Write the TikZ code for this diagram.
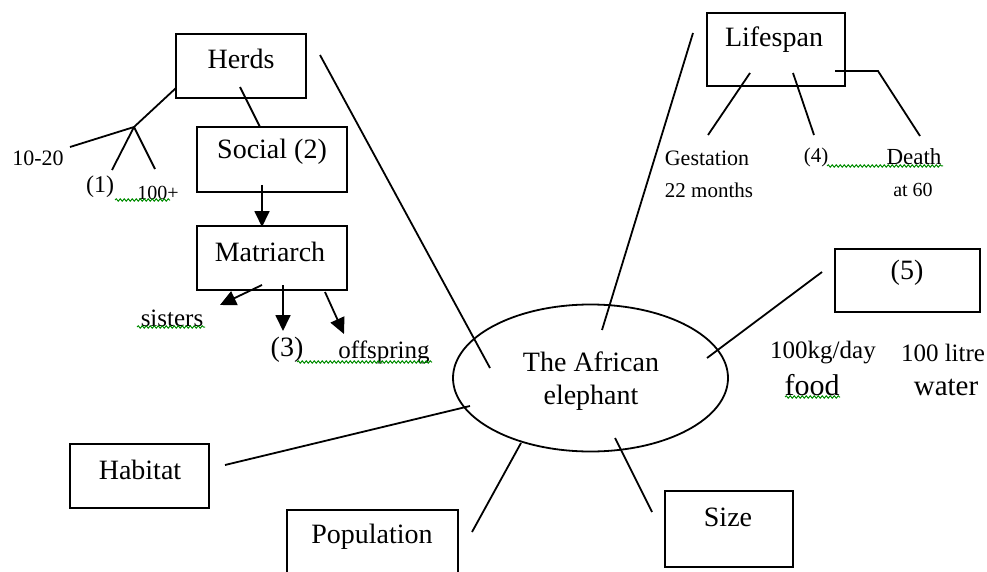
\documentclass[tikz,border=0pt]{standalone}
\usepackage{fontspec}
\setmainfont{Liberation Serif}
\usetikzlibrary{arrows.meta,shapes.geometric,decorations.pathmorphing}
\newcommand{\fs}[1]{\fontsize{#1}{#1}\selectfont}
\tikzset{
  box/.style={draw, line width=2pt, rectangle, inner sep=0pt},
  lab/.style={inner sep=0pt, anchor=center},
  big/.style={lab, font=\fs{28}},
  small/.style={lab, font=\fs{22}},
  conn/.style={line width=1.8pt},
  arr/.style={line width=1.8pt, -{Triangle[length=16pt,width=15pt]}},
  wavy/.style={draw=green!55!black, line width=1pt, decorate, decoration={snake, amplitude=1.2pt, segment length=4pt}}
}
\begin{document}
\begin{tikzpicture}[x=1pt,y=-1pt]
\useasboundingbox (0,0) rectangle (987,572);
\clip (0,0) rectangle (987,572);
\fill[white] (0,0) rectangle (987,572);
% boxes
\node[box, minimum width=130, minimum height=64] (herds) at (241,66) {};
\node[box, minimum width=150, minimum height=65] (social) at (272,159.5) {};
\node[box, minimum width=150, minimum height=64] (matri) at (272,258) {};
\node[box, minimum width=138, minimum height=73] (life) at (776,49.5) {};
\node[box, minimum width=145, minimum height=63] (five) at (907.5,280.5) {};
\node[box, minimum width=139, minimum height=64] (habitat) at (139.5,476) {};
\node[box, minimum width=171, minimum height=90] (pop) at (372.5,555) {};
\node[box, minimum width=128, minimum height=76] (size) at (729,529) {};
\node[draw, line width=1.8pt, ellipse, minimum width=275, minimum height=147, inner sep=0pt] (ell) at (590.5,378) {};
% box texts
\node[big] (tHerds) at (241,59) {Herds};
\node[big] (tSocial) at (272,152) {Social (2)};
\node[big] (tMatri) at (270,252) {Matriarch};
\node[big] (tLife) at (774,40) {Lifespan};
\node[big] (tFive) at (907,273) {(5)};
\node[big] (tHab) at (140,470) {Habitat};
\node[big] (tPop) at (372,537) {Population};
\node[big] (tSize) at (728,517) {Size};
\node[big, align=center, font=\fs{28}\linespread{1.18}\selectfont] (tEll) at (591,381) {The African\\elephant};
% small labels
\node[small] (l1020) at (38,158) {10-20};
\node[lab, font=\fs{24}] (l1) at (100,187) {(1)};
\node[lab, font=\fs{20}] (l100) at (158,193) {100+};
\node[lab, font=\fs{25}] (lsis) at (172,318) {sisters};
\node[big] (l3) at (287,350) {(3)};
\node[lab, font=\fs{25}] (loff) at (384,352) {offspring};
\node[small] (lgest) at (707,158) {Gestation};
\node[lab, font=\fs{21}] (l22) at (709,190) {22 months};
\node[lab, font=\fs{21}] (l4) at (816,157) {(4)};
\node[lab, font=\fs{23}] (ldeath) at (914,157) {Death};
\node[lab, font=\fs{20}] (lat60) at (913,190) {at 60};
\node[lab, font=\fs{25}] (lkg) at (823,353) {100kg/day};
\node[lab, font=\fs{25}] (llitre) at (943,353) {100 litre};
\node[lab, font=\fs{30}] (lfood) at (812,385) {food};
\node[lab, font=\fs{29}] (lwater) at (946,387) {water};
% coordinates
\coordinate (hL) at (176,88);
\coordinate (br) at (134,127);
\coordinate (e1020) at (70,147);
\coordinate (e1) at (112,170);
\coordinate (e100) at (155,169);
\coordinate (hs1) at (240,87);
\coordinate (hs2) at (260,127);
\coordinate (sm1) at (262,185);
\coordinate (sm2) at (262,227);
\coordinate (mS) at (262,285);
\coordinate (mSe) at (220,305);
\coordinate (m3) at (283,285);
\coordinate (m3e) at (283,331);
\coordinate (mO) at (325,292);
\coordinate (mOe) at (344,334);
\coordinate (he1) at (320,55);
\coordinate (he2) at (490,368);
\coordinate (le1) at (693,33);
\coordinate (le2) at (602,330);
\coordinate (lg1) at (750,73);
\coordinate (lg2) at (708,135);
\coordinate (l41) at (793,73);
\coordinate (l42) at (814,135);
\coordinate (ld1) at (835,71);
\coordinate (ld2) at (878,71);
\coordinate (ld3) at (920,136);
\coordinate (fe1) at (822,272);
\coordinate (fe2) at (707,358);
\coordinate (ha1) at (225,465);
\coordinate (ha2) at (470,406);
\coordinate (po1) at (472,532);
\coordinate (po2) at (521,443);
\coordinate (si1) at (652,512);
\coordinate (si2) at (615,438);
% connectors
\draw[conn] (hL) -- (br) -- (e1020);
\draw[conn] (br) -- (e1);
\draw[conn] (br) -- (e100);
\draw[conn] (hs1) -- (hs2);
\draw[arr] (sm1) -- (sm2);
\draw[arr] (mS) -- (mSe);
\draw[arr] (m3) -- (m3e);
\draw[arr] (mO) -- (mOe);
\draw[conn] (he1) -- (he2);
\draw[conn] (le1) -- (le2);
\draw[conn] (lg1) -- (lg2);
\draw[conn] (l41) -- (l42);
\draw[conn] (ld1) -- (ld2) -- (ld3);
\draw[conn] (fe1) -- (fe2);
\draw[conn] (ha1) -- (ha2);
\draw[conn] (po1) -- (po2);
\draw[conn] (si1) -- (si2);
% wavy underlines
\coordinate (w1a) at (115,200); \coordinate (w1b) at (170,200);
\coordinate (w2a) at (137,327); \coordinate (w2b) at (205,327);
\coordinate (w3a) at (297,362); \coordinate (w3b) at (432,362);
\coordinate (w4a) at (827,166); \coordinate (w4b) at (943,166);
\coordinate (w5a) at (785,397); \coordinate (w5b) at (840,397);
\draw[wavy] (w1a) -- (w1b);
\draw[wavy] (w2a) -- (w2b);
\draw[wavy] (w3a) -- (w3b);
\draw[wavy] (w4a) -- (w4b);
\draw[wavy] (w5a) -- (w5b);
\end{tikzpicture}
\end{document}
